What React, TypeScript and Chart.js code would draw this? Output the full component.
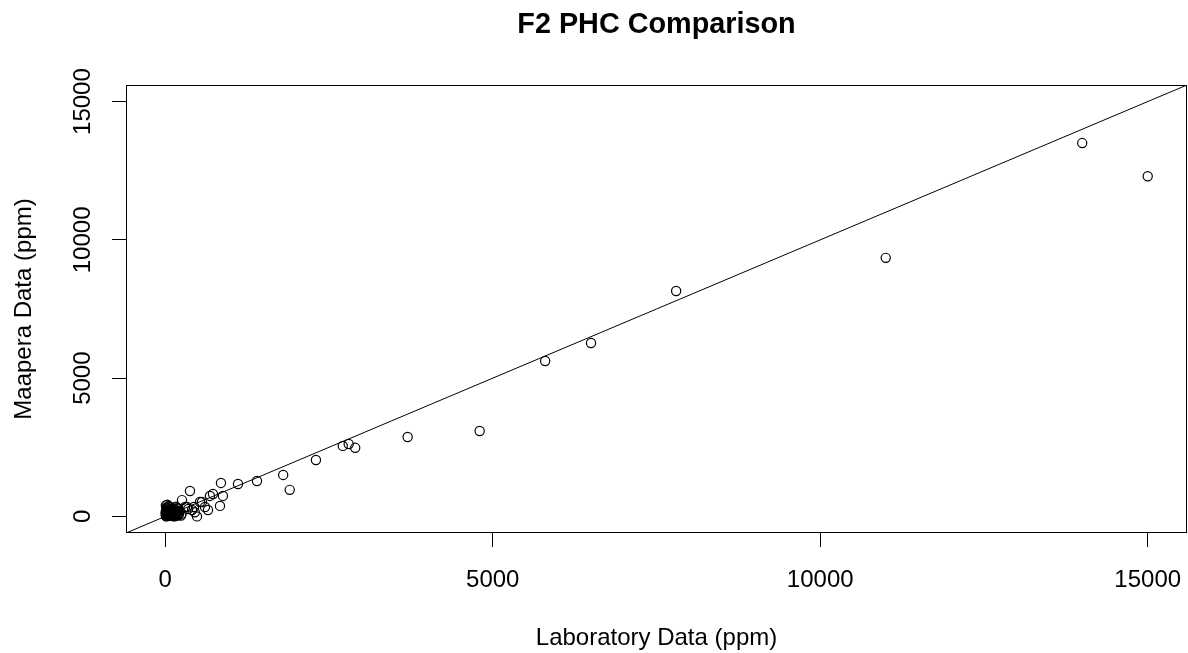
import { useEffect, useRef } from "react";
import { Chart, registerables } from "chart.js";

Chart.register(...registerables);

const chartTitle = "F2 PHC Comparison";
const xAxisTitle = "Laboratory Data (ppm)";
const yAxisTitle = "Maapera Data (ppm)";

const xTicks = [0, 5000, 10000, 15000];
const yTicks = [0, 5000, 10000, 15000];
const xRange = [-600, 15600];
const yRange = [-600, 15600];

// Laboratory values (x)
const labData = [
  15000, 14000, 11000, 7800, 6500, 5800, 4800, 3700, 2900, 2800,
  2710, 2300, 1800, 1900, 1400, 1110, 850, 880, 835, 652,
  682, 728, 484, 530, 377, 255, 438, 331, 606, 560,
  408, 301, 350, 450, 20, 30, 50, 40, 60, 80,
  100, 120, 150, 180, 200, 10, 70, 90, 130, 160,
  220, 240, 250, 25, 5, 110, 140, 190, 60, 30,
  15, 45, 75, 95, 115, 135, 170, 210, 5, 12,
  18, 22, 35, 48, 55, 65, 85, 105, 125, 145,
  165, 185, 205, 28, 38, 58, 78, 98, 118, 138,
  158, 178, 198, 8, 16,
];
// Maapera values (y), same order
const maaperaData = [
  12300, 13500, 9350, 8150, 6270, 5620, 3090, 2870, 2480, 2620,
  2550, 2040, 1500, 960, 1280, 1170, 1210, 740, 380, 230,
  740, 810, 0, 520, 920, 590, 340, 340, 340, 520,
  230, 340, 270, 150, 50, 100, 380, 200, 150, 20,
  60, 300, 250, 120, 40, 10, 250, 180, 80, 350,
  200, 30, 100, 300, 150, 10, 180, 280, 50, 420,
  250, 30, 120, 220, 160, 0, 60, 110, 80, 200,
  30, 320, 60, 280, 130, 90, 40, 220, 140, 20,
  70, 190, 90, 160, 10, 340, 110, 260, 50, 230,
  15, 300, 170, 400, 5,
];

// Reference line y = x across the plotting range
const refLineX = [-600, 15600];

const FONT = "'Liberation Sans', Arial, Helvetica, sans-serif";

const textPlugin = {
  id: "rStyleText",
  afterDraw(chart: any) {
    const { ctx, chartArea: a, scales } = chart;
    const xs = scales.x;
    const ys = scales.y;
    ctx.save();
    ctx.strokeStyle = "#000";
    ctx.lineWidth = 1;
    ctx.strokeRect(a.left + 0.5, a.top + 0.5, a.right - a.left - 1, a.bottom - a.top - 1);
    ctx.fillStyle = "#000";
    ctx.font = `bold 28.8px ${FONT}`;
    ctx.textAlign = "center";
    ctx.textBaseline = "alphabetic";
    const cx = (a.left + a.right) / 2;
    const cy = (a.top + a.bottom) / 2;
    ctx.fillText(chartTitle, cx, 33);
    ctx.font = `24px ${FONT}`;
    xTicks.forEach((v) => {
      ctx.fillText(String(v), xs.getPixelForValue(v), 587);
    });
    ctx.fillText(xAxisTitle, cx, 645);
    yTicks.forEach((v) => {
      const py = ys.getPixelForValue(v);
      ctx.save();
      ctx.translate(89.5, py);
      ctx.rotate(-Math.PI / 2);
      ctx.fillText(String(v), 0, 0);
      ctx.restore();
    });
    ctx.save();
    ctx.translate(30.5, cy);
    ctx.rotate(-Math.PI / 2);
    ctx.fillText(yAxisTitle, 0, 0);
    ctx.restore();
    ctx.restore();
  },
};

export default function App() {
  const ref = useRef<HTMLCanvasElement | null>(null);

  useEffect(() => {
    if (!ref.current) return;
    const points = labData.map((x, i) => ({ x, y: maaperaData[i] }));
    const line = refLineX.map((x) => ({ x, y: x }));
    const chart = new Chart(ref.current, {
      type: "scatter",
      data: {
        datasets: [
          {
            type: "line",
            data: line,
            borderColor: "#000",
            borderWidth: 1,
            pointRadius: 0,
            fill: false,
          } as any,
          {
            data: points,
            pointStyle: "circle",
            pointRadius: 4.6,
            pointBorderWidth: 1.2,
            borderColor: "#000",
            backgroundColor: "rgba(0,0,0,0)",
            pointHoverRadius: 4.6,
          },
        ],
      },
      options: {
        responsive: false,
        animation: false,
        events: [],
        layout: { autoPadding: false, padding: { left: 0, right: 1, top: 85, bottom: 0 } },
        plugins: {
          legend: { display: false },
          tooltip: { enabled: false },
          title: { display: false },
        },
        scales: {
          x: {
            type: "linear",
            min: xRange[0],
            max: xRange[1],
            afterBuildTicks: (s: any) => {
              s.ticks = xTicks.map((v) => ({ value: v }));
            },
            afterFit: (s: any) => {
              s.height = 120;
            },
            ticks: { display: false },
            grid: {
              display: true,
              drawOnChartArea: false,
              drawTicks: true,
              tickLength: 14,
              color: "#000",
              lineWidth: 1,
            },
            border: { display: false },
          },
          y: {
            type: "linear",
            min: yRange[0],
            max: yRange[1],
            afterBuildTicks: (s: any) => {
              s.ticks = yTicks.map((v) => ({ value: v }));
            },
            afterFit: (s: any) => {
              s.width = 126;
            },
            ticks: { display: false },
            grid: {
              display: true,
              drawOnChartArea: false,
              drawTicks: true,
              tickLength: 14,
              color: "#000",
              lineWidth: 1,
            },
            border: { display: false },
          },
        },
      },
      plugins: [textPlugin],
    });
    return () => chart.destroy();
  }, []);

  return (
    <div style={{ position: "fixed", left: 0, top: 0, width: 1188, height: 653, background: "#fff" }}>
      <canvas ref={ref} width={1188} height={653} style={{ display: "block" }} />
    </div>
  );
}
